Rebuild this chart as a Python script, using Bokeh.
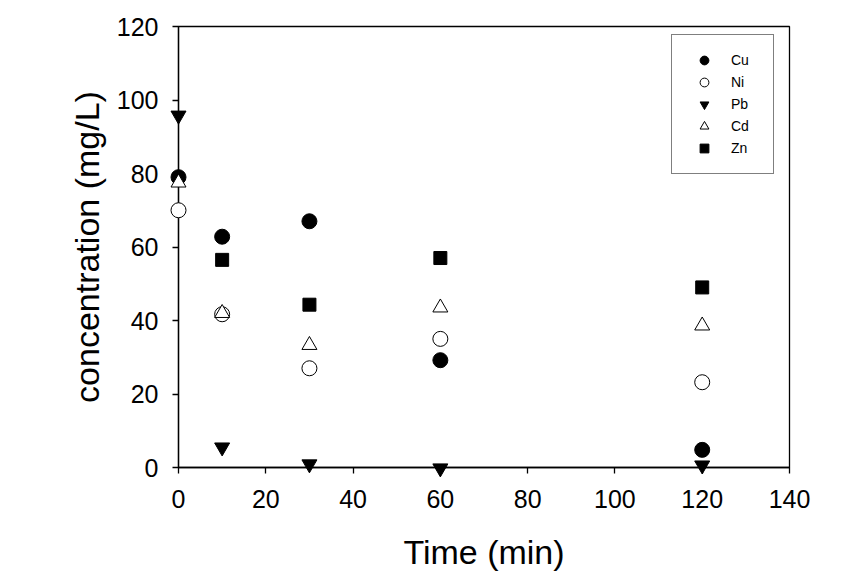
from bokeh.plotting import figure
from bokeh.models import Legend, LegendItem
from bokeh.embed import file_html
from bokeh.resources import INLINE

time_cu = [0, 10, 30, 60, 120]
cu = [79, 62.8, 67, 29.2, 4.8]
time_ni = [0, 10, 30, 60, 120]
ni = [70, 41.7, 27, 35, 23.2]
time_pb = [0, 10, 30, 60, 120]
pb = [95.8, 5.5, 0.9, -0.2, 0.6]
time_cd = [0, 10, 30, 60, 120]
cd = [77.5, 42, 33.3, 43.5, 38.6]
time_zn = [10, 30, 60, 120]
zn = [56.5, 44.3, 57, 49]

xticks = [0, 20, 40, 60, 80, 100, 120, 140]
yticks = [0, 20, 40, 60, 80, 100, 120]

FONT = "Liberation Sans"

p = figure(width=848, height=578, x_range=(0, 140), y_range=(0, 120),
           output_backend="svg", toolbar_location=None,
           min_border_left=178, min_border_right=59, min_border_top=26, min_border_bottom=111)
p.grid.visible = False
p.outline_line_color = "black"
p.outline_line_width = 1.3
p.background_fill_color = "white"
p.border_fill_color = "white"

for ax in (p.xaxis[0], p.yaxis[0]):
    ax.axis_line_color = "black"
    ax.axis_line_width = 1.3
    ax.major_tick_in = 0
    ax.major_tick_out = 6
    ax.major_tick_line_width = 1.3
    ax.minor_tick_line_color = None
    ax.major_label_text_font = FONT
    ax.major_label_text_font_size = "25px"
    ax.major_label_text_color = "black"
    ax.axis_label_text_font = FONT
    ax.axis_label_text_font_size = "34px"
    ax.axis_label_text_font_style = "normal"
    ax.axis_label_text_color = "black"

p.xaxis.ticker = xticks
p.yaxis.ticker = yticks
p.xaxis.axis_label = "Time (min)"
p.yaxis.axis_label = "concentration (mg/L)"
p.xaxis.major_label_standoff = 16
p.yaxis.major_label_standoff = 14
p.xaxis.axis_label_standoff = 22
p.yaxis.axis_label_standoff = 8

S = 15
r_cu = p.scatter(time_cu, cu, marker="circle", size=S, fill_color="black", line_color="black", level="overlay")
r_ni = p.scatter(time_ni, ni, marker="circle", size=S, fill_color="white", line_color="black", line_width=1, level="overlay")
r_pb = p.scatter(time_pb, pb, marker="inverted_triangle", size=S, fill_color="black", line_color="black", level="overlay")
r_cd = p.scatter(time_cd, cd, marker="triangle", size=S, fill_color="white", line_color="black", line_width=1, level="overlay")
r_zn = p.scatter(time_zn, zn, marker="square", size=13, fill_color="black", line_color="black", level="overlay")

legend = Legend(items=[
    LegendItem(label="Cu", renderers=[r_cu]),
    LegendItem(label="Ni", renderers=[r_ni]),
    LegendItem(label="Pb", renderers=[r_pb]),
    LegendItem(label="Cd", renderers=[r_cd]),
    LegendItem(label="Zn", renderers=[r_zn]),
], location=(493, 293))
legend.label_text_font = FONT
legend.label_text_font_size = "14px"
legend.label_text_color = "black"
legend.border_line_color = "black"
legend.border_line_width = 1.3
legend.padding = 14
legend.spacing = 0
legend.glyph_width = 36
legend.glyph_height = 22
legend.label_height = 22
legend.label_width = 28
legend.label_standoff = 9
legend.margin = 0
legend.background_fill_alpha = 1
p.add_layout(legend, "center")

open("out.html", "w").write(file_html(p, INLINE))
